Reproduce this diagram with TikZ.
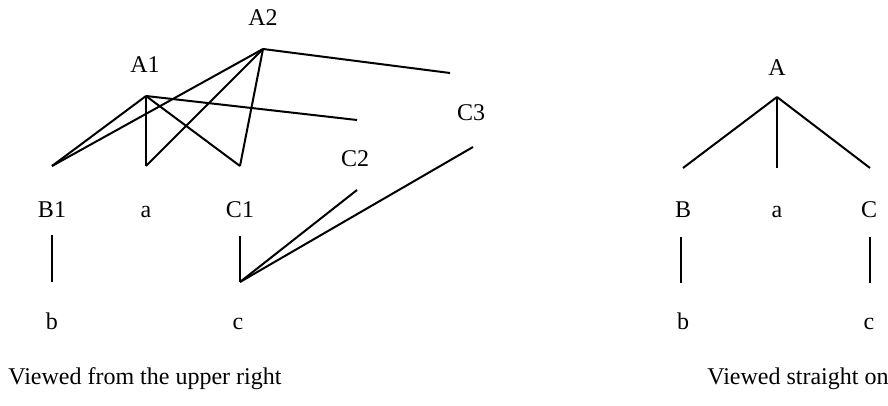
\documentclass[tikz,border=0pt]{standalone}
\usepackage{fontspec}
\setmainfont{Liberation Serif}
\usetikzlibrary{calc}

\begin{document}
\begin{tikzpicture}[x = 0.5pt, y = -0.5pt,
  edge/.style = {line width = 1pt},
  lab/.style = {font = \fontsize{12}{12}\selectfont, inner sep = 0pt,
                text height = 1.6ex, text depth = 0.2ex}]
\useasboundingbox (0,0) rectangle (888,406);
% viewed from the upper right
\coordinate (A2) at (263,49);
\coordinate (A1) at (146,96);
\coordinate (B1t) at (52,166);
\coordinate (at) at (146,166);
\coordinate (C1t) at (240,166);
\coordinate (A2r) at (450,73);
\coordinate (A1r) at (357,120);
\coordinate (C2t) at (357,190);
\coordinate (C3t) at (473,147);
\coordinate (B1b) at (52,235);
\coordinate (bt) at (52,282);
\coordinate (C1b) at (240,236);
\coordinate (ct) at (240,282);
\draw[edge] (A1)--(B1t);
\draw[edge] (A1)--(at);
\draw[edge] (A1)--(C1t);
\draw[edge] (A1)--(A1r);
\draw[edge] (A2)--(B1t);
\draw[edge] (A2)--(at);
\draw[edge] (A2)--(C1t);
\draw[edge] (A2)--(A2r);
\draw[edge] (B1b)--(bt);
\draw[edge] (C1b)--(ct);
\draw[edge] (ct)--(C2t);
\draw[edge] (ct)--(C3t);
\node[lab] (lA2) at (263,19) {A2};
\node[lab] (lA1) at (145,66) {A1};
\node[lab] (lB1) at (52,211) {B1};
\node[lab] (la) at (146,211) {a};
\node[lab] (lC1) at (240,211) {C1};
\node[lab] (lC2) at (355,160) {C2};
\node[lab] (lC3) at (471,114) {C3};
\node[lab] (lb) at (52,323) {b};
\node[lab] (lc) at (238,323) {c};
% viewed straight on
\coordinate (A) at (777,97);
\coordinate (Bt) at (683,168);
\coordinate (at2) at (777,168);
\coordinate (Ct) at (870,168);
\coordinate (Bb) at (681,237);
\coordinate (bt2) at (681,283);
\coordinate (Cb) at (870,237);
\coordinate (ct2) at (870,283);
\draw[edge] (A)--(Bt);
\draw[edge] (A)--(at2);
\draw[edge] (A)--(Ct);
\draw[edge] (Bb)--(bt2);
\draw[edge] (Cb)--(ct2);
\node[lab] (lA) at (777,69) {A};
\node[lab] (lB) at (683,211) {B};
\node[lab] (la2) at (777,211) {a};
\node[lab] (lC) at (869,211) {C};
\node[lab] (lb2) at (683,323) {b};
\node[lab] (lc2) at (869,323) {c};
% captions
\node[lab, anchor = west] (capL) at (8,378) {Viewed from the upper right};
\node[lab, anchor = west] (capR) at (707,378) {Viewed straight on};
\end{tikzpicture}
\end{document}
